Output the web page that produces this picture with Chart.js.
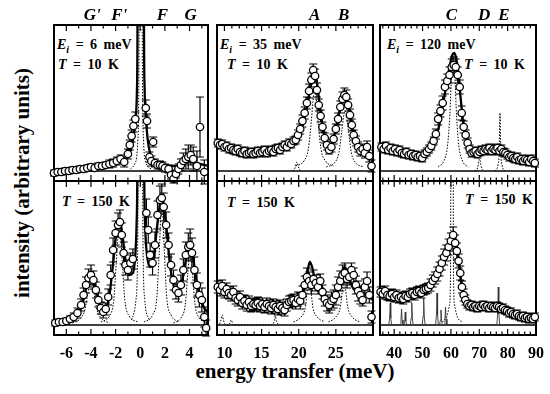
<!DOCTYPE html>
<html><head><meta charset="utf-8">
<script src="https://cdn.jsdelivr.net/npm/chart.js@4.4.0/dist/chart.umd.min.js"></script>
<style>
html,body{margin:0;padding:0;background:#fff;}
body{width:550px;height:394px;position:relative;overflow:hidden;font-family:"Liberation Serif","Times New Roman",serif;color:#000;}
canvas{position:absolute;}
.lbl{position:absolute;font-weight:bold;font-size:14px;line-height:14px;white-space:nowrap;word-spacing:3px;}
.lbl i.s{font-size:10px;position:relative;top:4px;}
#ytitle{position:absolute;left:22px;top:183px;transform:translate(-50%,-50%) rotate(-90deg);font-weight:bold;font-size:21px;white-space:nowrap;}
#xtitle{position:absolute;left:295px;top:361px;transform:translateX(-50%);font-weight:bold;font-size:21px;line-height:21px;white-space:nowrap;}
</style></head><body>
<div id="ytitle">intensity (arbitrary units)</div>
<div id="xtitle">energy transfer (meV)</div>
<div class="lbl" style="left:57px;top:38px"><i>E</i><i class="s">i</i> = 6 meV</div>
<div class="lbl" style="left:58px;top:57.5px"><i>T</i> = 10 K</div>
<div class="lbl" style="left:220px;top:38px"><i>E</i><i class="s">i</i> = 35 meV</div>
<div class="lbl" style="left:227px;top:57.5px"><i>T</i> = 10 K</div>
<div class="lbl" style="left:387px;top:38px"><i>E</i><i class="s">i</i> = 120 meV</div>
<div class="lbl" style="right:25px;top:57.5px"><i>T</i> = 10 K</div>
<div class="lbl" style="left:62px;top:195px"><i>T</i> = 150 K</div>
<div class="lbl" style="left:227px;top:196px"><i>T</i> = 150 K</div>
<div class="lbl" style="right:17px;top:193px"><i>T</i> = 150 K</div>
<script>
// ---------- tick labels / peak labels ----------
const leftTicks = [-6,-4,-2,0,2,4];
const midTicks = [10,15,20,25];
const rightTicks = [40,50,60,70,80,90];
const leftPeaks = ["G'","F'","F","G"];
const leftPeakX = [-3.9,-1.7,1.8,4.1];
const midPeaks = ["A","B"];
const midPeakX = [22.15,26.05];
const rightPeaks = ["C","D","E"];
const rightPeakX = [60.2,71.7,78.7];

// ---------- panel 1 : Ei = 6 meV, T = 10 K ----------
const p1_x = [-7.0,-6.7,-6.4,-6.1,-5.8,-5.5,-5.2,-4.9,-4.6,-4.3,-4.0,-3.7,-3.4,-3.1,-2.8,-2.5,-2.2,-1.9,-1.6,-1.3,-1.0,-0.85,-0.7,-0.55,-0.4,0.45,0.55,0.75,0.9,1.05,1.2,1.4,1.6,1.8,2.0,2.3,2.5,2.7,2.9,3.1,3.3,3.5,3.7,3.9,4.1,4.3,4.6,4.85,5.2];
const p1_y = [-2,-1,-1,0,0,1,1,2,2,3,4,3,5,5,6,7,8,10,12,9,17,26,35,45,52,63,50,14,10,29,8,6,6,5,3,2,-4,-8,-3,2,6,10,12,14,16,12,5,44,-1];
const p1_e = [3,3,3,3,3,3,3,3,3,3,3,3,3,3,3,4,4,4,4,5,5,5,6,6,7,8,7,5,5,5,4,4,4,4,4,4,4,4,4,5,6,8,10,12,10,12,15,30,12];
const p1_fit = [[-7,0],[-6,1],[-5,2],[-4,3.5],[-3,5],[-2,7],[-1.5,9],[-1,14],[-0.7,24],[-0.5,38],[-0.35,55],[-0.27,80],[-0.22,160],[-0.2,400],[0.27,400],[0.3,160],[0.36,80],[0.45,55],[0.6,32],[0.8,18],[1.1,11],[1.5,7],[2,5],[3,5],[3.5,7],[4,9],[4.5,8],[5.5,5]];
const p1_elastic = [[-0.8,2],[-0.4,8],[-0.2,30],[-0.1,120],[-0.05,400],[0.12,400],[0.17,120],[0.27,30],[0.47,8],[0.9,2]];

// ---------- panel 4 : Ei = 6 meV, T = 150 K ----------
const p4_x = [-6.9,-6.6,-6.3,-6.0,-5.7,-5.4,-5.1,-4.8,-4.6,-4.4,-4.2,-4.0,-3.8,-3.6,-3.4,-3.2,-3.0,-2.8,-2.6,-2.4,-2.2,-2.0,-1.8,-1.65,-1.5,-1.35,-1.2,-1.0,-0.8,-0.6,0.5,0.65,0.8,1.0,1.2,1.4,1.6,1.75,1.9,2.1,2.3,2.5,2.7,2.9,3.1,3.3,3.5,3.7,3.9,4.05,4.2,4.4,4.6,4.8,5.0,5.2,5.35];
const p4_y = [2,3,3,4,6,8,12,20,30,40,47,50,45,35,25,17,13,16,28,50,75,92,100,103,90,72,60,55,62,66,112,95,70,62,80,110,125,127,118,100,80,60,45,35,32,40,55,70,78,80,72,55,40,30,25,8,-3];
const p4_e = [3,3,3,3,3,4,5,6,7,8,9,10,9,8,7,6,6,6,8,10,12,12,12,12,12,11,10,10,10,10,14,13,12,12,13,14,14,14,14,13,12,11,10,9,9,10,11,13,14,16,15,13,12,12,12,10,8];
const p4_fit = [[-7,2],[-6,4],[-5.5,6],[-5,12],[-4.6,26],[-4.3,42],[-4.0,51],[-3.7,42],[-3.4,25],[-3.1,15],[-2.8,16],[-2.5,30],[-2.2,62],[-1.95,92],[-1.7,104],[-1.45,90],[-1.2,65],[-0.9,50],[-0.6,52],[-0.4,70],[-0.3,100],[-0.22,200],[-0.2,400],[0.27,400],[0.3,200],[0.4,100],[0.55,70],[0.8,58],[1.1,68],[1.4,102],[1.75,128],[2.1,100],[2.4,62],[2.7,40],[3.0,32],[3.3,38],[3.6,58],[3.85,74],[4.05,80],[4.3,66],[4.6,42],[5.0,22],[5.5,12]];
const p4_Gp = [[-5.5,2],[-4.9,6],[-4.5,15],[-4.25,32],[-4.0,48],[-3.75,32],[-3.5,15],[-3.1,6],[-2.5,2]];
const p4_Fp = [[-3.2,3],[-2.5,9],[-2.15,25],[-1.95,62],[-1.7,100],[-1.45,62],[-1.25,25],[-0.9,9],[-0.2,3]];
const p4_el = [[-0.7,5],[-0.35,25],[-0.2,90],[-0.1,400],[0.12,400],[0.22,90],[0.37,25],[0.72,5]];
const p4_F = [[0.3,3],[1.0,10],[1.35,28],[1.55,75],[1.75,125],[1.95,75],[2.15,28],[2.5,10],[3.2,3]];
const p4_G = [[2.7,2],[3.3,7],[3.65,20],[3.85,50],[4.05,75],[4.25,50],[4.45,20],[4.8,7],[5.4,2]];

// ---------- panel 2 : Ei = 35 meV, T = 10 K ----------
const p2_x = [9.1,9.4,9.7,10.0,10.3,10.6,10.9,11.2,11.5,11.8,12.1,12.4,12.7,13.0,13.3,13.6,13.9,14.2,14.5,14.8,15.1,15.4,15.7,16.0,16.3,16.6,16.9,17.2,17.5,17.8,18.1,18.4,18.7,19.0,19.3,19.6,19.9,20.2,20.5,20.8,21.1,21.4,21.7,21.95,22.2,22.45,22.7,22.95,23.2,23.5,23.8,24.1,24.4,24.7,25.0,25.3,25.6,25.9,26.15,26.4,26.65,26.9,27.15,27.4,27.7,28.0,28.3,28.6,28.9,29.2,29.5,29.8];
const p2_y = [28,26,27,24,25,22,23,21,20,22,19,18,20,17,18,19,17,18,20,18,19,21,18,20,21,19,22,23,21,24,26,24,28,27,30,31,36,42,50,58,68,80,91,101,95,81,66,55,44,33,26,21,24,32,42,52,64,72,76,74,66,56,46,36,30,24,20,22,18,24,15,5];
const p2_e = [4,4,4,4,4,4,4,4,4,4,4,4,4,4,4,4,4,4,4,4,4,4,4,4,4,4,4,4,4,4,4,4,4,4,4,4,5,5,6,6,6,7,7,6,7,7,6,6,5,5,5,4,5,5,5,6,6,7,7,7,6,6,6,5,5,5,5,5,5,6,6,6];
const p2_fit = [[9,28],[10,25],[11,22],[12,20],[13,19],[14,18.5],[15,19],[16,20],[17,22],[18,25],[19,29],[19.8,34],[20.4,42],[20.9,56],[21.3,72],[21.6,88],[21.9,100],[22.1,102],[22.3,97],[22.6,80],[23.0,56],[23.4,38],[23.8,27],[24.2,24],[24.6,30],[25.0,42],[25.4,57],[25.8,70],[26.1,77],[26.3,77],[26.6,70],[27.0,54],[27.4,38],[27.8,27],[28.3,20],[28.8,17],[29.4,14],[30,12]];
const p2_A = [[19.6,5],[20.7,10],[21.3,22],[21.7,50],[22.0,76],[22.15,80],[22.3,76],[22.6,50],[23.0,22],[23.6,10],[24.7,5]];
const p2_B = [[23.7,4],[24.8,8],[25.4,18],[25.8,40],[26.1,57],[26.25,60],[26.4,57],[26.7,40],[27.1,18],[27.7,8],[28.8,4]];
const p2_small = [[19.2,0],[19.5,3],[19.75,9],[20.0,3],[20.3,0]];

// ---------- panel 5 : Ei = 35 meV, T = 150 K ----------
const p5_x = [9.1,9.4,9.7,10.0,10.3,10.6,10.9,11.2,11.5,11.8,12.1,12.4,12.7,13.0,13.3,13.6,13.9,14.2,14.5,14.8,15.1,15.4,15.7,16.0,16.3,16.6,16.9,17.2,17.5,17.8,18.1,18.4,18.7,19.0,19.3,19.6,19.9,20.2,20.5,20.8,21.1,21.4,21.7,22.0,22.3,22.6,22.9,23.2,23.5,23.8,24.1,24.4,24.7,25.0,25.3,25.6,25.9,26.2,26.5,26.8,27.1,27.4,27.7,28.0,28.3,28.6,28.9,29.2,29.5,29.8];
const p5_y = [38,35,39,33,36,32,30,33,27,25,28,22,24,20,23,19,21,20,22,19,21,18,21,19,17,20,18,16,19,17,15,20,23,24,25,22,26,24,30,40,48,44,40,46,42,38,44,33,26,22,20,24,26,30,38,44,50,52,46,48,55,50,40,34,30,25,38,44,30,8];
const p5_e = [6,6,6,6,6,6,6,6,6,6,6,6,6,6,6,6,6,6,6,6,6,6,6,6,6,6,6,6,6,6,6,6,6,6,6,6,7,8,9,9,9,9,9,9,8,7,7,7,7,8,8,9,9,10,10,10,10,10,9,8,7,7,9,10,9,6,8,9,8,6];
const p5_fit = [[9,36],[10,33],[11,28],[12,24],[13,21],[14,19],[15,18],[16,18],[17,18],[18,19],[19,21],[20,25],[20.6,33],[21.0,45],[21.3,58],[21.5,63],[21.8,58],[22.1,48],[22.5,38],[23,30],[23.5,25],[24,24],[24.5,27],[25,33],[25.5,45],[25.9,55],[26.2,58],[26.5,53],[26.9,44],[27.4,36],[28,33],[28.5,33],[29,31],[29.5,28],[30,25]];
const p5_A = [[19.3,3],[20.3,8],[20.9,18],[21.2,38],[21.4,50],[21.6,38],[21.9,18],[22.5,8],[23.5,3]];
const p5_B = [[24.0,3],[25.0,8],[25.6,18],[25.9,36],[26.1,45],[26.3,36],[26.6,18],[27.2,8],[28.2,3]];
const p5_small = [[9,0],[9.2,0],[9.5,4],[9.7,10],[9.9,4],[10.2,0],[10.6,0],[10.9,5],[11.2,0],[16.4,0],[16.7,4],[16.85,9],[17.0,4],[17.3,0]];

// ---------- panel 3 : Ei = 120 meV, T = 10 K ----------
const p3_x = [35.5,36.3,37.1,37.9,38.7,39.5,40.3,41.1,41.9,42.7,43.5,44.3,45.1,45.9,46.7,47.5,48.3,49.1,49.9,50.7,51.5,52.3,53.1,53.9,54.7,55.5,56.3,57.1,57.9,58.7,59.5,60.3,61.0,61.7,62.4,63.1,63.8,64.5,65.2,65.9,66.6,67.3,68.0,68.7,69.4,70.1,70.8,71.5,72.2,72.9,73.6,74.3,75.0,75.7,76.4,77.1,77.8,78.5,79.2,79.9,80.6,81.3,82.0,82.7,83.4,84.1,84.8,85.5,86.2,86.9,87.6,88.3,89.0,89.6];
const p3_y = [24,22,25,21,23,20,22,19,21,18,17,19,16,17,15,16,14,15,13,17,19,22,25,30,37,52,60,68,84,90,96,104,106,104,96,84,58,44,36,28,22,18,19,20,17,19,21,20,22,21,23,20,22,21,23,20,22,19,18,16,14,15,13,12,14,11,12,10,12,11,9,12,10,8];
const p3_e = [4,4,4,4,4,4,4,4,4,4,4,4,4,4,4,4,4,4,4,4,4,4,4,4,5,6,6,7,7,7,8,8,8,8,8,7,7,6,5,5,4,4,4,4,4,4,4,4,4,4,4,4,4,4,4,4,4,4,4,4,4,4,4,4,4,4,4,4,4,4,4,4,4,4];
const p3_fit = [[35,24],[38,22],[41,20],[44,18],[47,16],[50,16],[52,20],[53.5,26],[55,36],[56.2,50],[57.3,68],[58.5,88],[59.6,105],[60.5,116],[61.2,118],[61.9,112],[62.7,96],[63.4,74],[64.2,52],[65.1,36],[66.2,26],[67.5,21],[69,20],[71,21],[73,22],[75,22],[77,21],[79,18],[82,14],[85,12],[88,10],[90,9]];
const p3_C = [[55.5,4],[57.5,10],[58.8,25],[59.6,55],[60.2,95],[60.8,115],[61.4,95],[62.0,55],[62.8,25],[64.1,10],[66.1,4]];
const p3_D = [[68.4,0],[69.4,3],[70.1,12],[70.8,3],[71.8,0]];
const p3_E = [[75.6,0],[76.6,6],[77.0,18],[77.3,58],[77.6,18],[78.0,6],[79.0,0]];

// ---------- panel 6 : Ei = 120 meV, T = 150 K ----------
const p6_x = [35.2,36.0,36.8,37.6,38.4,39.2,40.0,40.8,41.6,42.4,43.2,44.0,44.8,45.6,46.4,47.2,48.0,48.8,49.6,50.4,51.2,52.0,52.8,53.6,54.4,55.2,56.0,56.8,57.6,58.4,59.2,60.0,60.8,61.5,62.1,62.7,63.3,63.9,64.5,65.1,65.8,66.5,67.2,67.9,68.6,69.3,70.0,70.7,71.4,72.1,72.8,73.5,74.2,74.9,75.6,76.3,77.0,77.7,78.4,79.1,79.8,80.5,81.2,81.9,82.6,83.3,84.0,84.7,85.4,86.1,86.8,87.5,88.2,88.9,89.6];
const p6_y = [33,31,34,30,29,31,28,30,27,28,26,29,28,31,32,30,33,34,32,35,36,37,40,44,47,51,56,62,68,72,78,84,90,82,74,64,52,38,30,25,21,19,20,18,19,17,19,18,20,18,19,17,19,18,17,19,18,16,17,15,14,12,13,11,10,11,9,8,9,7,8,6,7,6,8];
const p6_e = [5,5,5,5,5,5,5,5,5,5,5,5,5,5,5,5,5,5,5,5,5,5,6,6,6,7,7,7,8,8,8,8,8,8,8,7,7,6,6,5,4,4,4,4,4,4,4,4,4,4,4,4,4,4,4,4,4,4,4,4,4,4,4,4,4,4,4,4,4,4,4,4,4,4,4];
const p6_fit = [[35,33],[38,30],[41,28],[44,28],[47,31],[50,34],[52,38],[54,45],[55.5,52],[57,62],[58.5,74],[59.7,86],[60.6,92],[61.3,90],[62,80],[62.8,64],[63.5,46],[64.3,32],[65.3,24],[66.5,20],[68,19],[70,19],[72,19],[74,19],[76,18],[78,16],[80,13],[83,10],[86,8],[90,7]];
const p6_C = [[57,3],[58.5,8],[59.5,20],[59.9,60],[60.1,400],[60.7,400],[60.9,60],[61.3,20],[62.3,8],[64,3]];
const p6_spikes = [[35,0],[38.1,0],[38.4,7],[38.6,22],[38.8,7],[39.1,0],[42.1,0],[42.4,5],[42.6,16],[42.8,5],[43.1,0],[43.4,0],[43.7,4],[43.9,13],[44.1,4],[44.4,0],[45.7,0],[46.0,7],[46.2,22],[46.4,7],[46.7,0],[49.9,0],[50.2,9],[50.4,27],[50.6,9],[50.9,0],[54.6,0],[54.9,10],[55.1,32],[55.3,10],[55.6,0],[56,0],[56.3,5],[56.5,15],[56.7,5],[57,0],[57.6,0],[57.9,6],[58.1,18],[58.3,6],[58.6,0],[76.2,0],[76.5,12],[76.7,38],[76.9,12],[77.2,0],[90,0]];

// ---------- layout ----------
const panels = [
  {rect:[54,25,154,156], xr:[-7,5.5], yr:[-10,146], minor:1, ticks:leftTicks, bottomRow:false, peaks:leftPeaks, peakX:leftPeakX,
   d:[p1_x,p1_y,p1_e], fit:p1_fit, comps:[p1_elastic], solid:[]},
  {rect:[217,25,156,156], xr:[9,30], yr:[-10,146], minor:1, ticks:midTicks, bottomRow:false, peaks:midPeaks, peakX:midPeakX,
   d:[p2_x,p2_y,p2_e], fit:p2_fit, comps:[p2_A,p2_B,p2_small], solid:[]},
  {rect:[380,25,156,156], xr:[35,90], yr:[-10,146], minor:2, ticks:rightTicks, bottomRow:false, peaks:rightPeaks, peakX:rightPeakX,
   d:[p3_x,p3_y,p3_e], fit:p3_fit, comps:[p3_C,p3_D,p3_E], solid:[]},
  {rect:[54,181,154,154], xr:[-7,5.5], yr:[-10,144], minor:1, ticks:leftTicks, bottomRow:true,
   d:[p4_x,p4_y,p4_e], fit:p4_fit, comps:[p4_Gp,p4_Fp,p4_el,p4_F,p4_G], solid:[]},
  {rect:[217,181,156,154], xr:[9,30], yr:[-10,144], minor:1, ticks:midTicks, bottomRow:true,
   d:[p5_x,p5_y,p5_e], fit:p5_fit, comps:[p5_A,p5_B,p5_small], solid:[]},
  {rect:[380,181,156,154], xr:[35,90], yr:[-10,144], minor:2, ticks:rightTicks, bottomRow:true,
   d:[p6_x,p6_y,p6_e], fit:p6_fit, comps:[p6_C], solid:[p6_spikes]}
];

const pairs = a => a.map(p => ({x:p[0], y:p[1]}));

function makePlugin(cfg){
  return {
    id:'panelDeco',
    beforeDatasetsDraw(chart){
      const {ctx, chartArea:a, scales:{x}} = chart;
      ctx.save();
      ctx.strokeStyle='#000';
      ctx.lineWidth=2;
      ctx.strokeRect(a.left, a.top, a.right-a.left, a.bottom-a.top);
      ctx.lineWidth=1.2;
      ctx.beginPath();
      const s = cfg.minor;
      for(let v = Math.ceil(x.min/s)*s; v <= x.max+1e-9; v += s){
        const px = x.getPixelForValue(v);
        const major = cfg.ticks.some(t => Math.abs(t-v) < 1e-6);
        const len = major ? 6 : 3.5;
        ctx.moveTo(px, a.top); ctx.lineTo(px, a.top+len);
        ctx.moveTo(px, a.bottom); ctx.lineTo(px, a.bottom-len);
      }
      ctx.stroke();
      ctx.restore();
    },
    beforeDatasetDraw(chart, args){
      const ds = chart.data.datasets[args.index];
      if(!ds.errs) return;
      const {ctx, scales:{x,y}} = chart;
      ctx.save();
      ctx.strokeStyle='#000';
      ctx.lineWidth=1.2;
      ctx.beginPath();
      ds.data.forEach((p,i) => {
        const e = ds.errs[i] || 0;
        const px = x.getPixelForValue(p.x);
        const y1 = y.getPixelForValue(p.y+e), y2 = y.getPixelForValue(p.y-e);
        ctx.moveTo(px, y1); ctx.lineTo(px, y2);
        ctx.moveTo(px-4, y1); ctx.lineTo(px+4, y1);
        ctx.moveTo(px-4, y2); ctx.lineTo(px+4, y2);
      });
      ctx.stroke();
      ctx.restore();
    },
    afterDraw(chart){
      const {ctx, chartArea:a, scales:{x}} = chart;
      ctx.save();
      ctx.fillStyle='#000';
      ctx.textAlign='center';
      ctx.textBaseline='alphabetic';
      if(cfg.bottomRow){
        ctx.font='bold 16px "Liberation Serif", "Times New Roman", serif';
        cfg.ticks.forEach(t => ctx.fillText(String(t), x.getPixelForValue(t), a.bottom+22.5));
      }
      if(cfg.peaks){
        ctx.font='bold italic 17px "Liberation Serif", "Times New Roman", serif';
        cfg.peaks.forEach((t,i) => ctx.fillText(t, x.getPixelForValue(cfg.peakX[i]), a.top-5));
      }
      ctx.restore();
    }
  };
}

panels.forEach((cfg) => {
  const [l,t,w,h] = cfg.rect;
  const ml=14, mr=14, mt = cfg.bottomRow ? 14 : 25, mb = cfg.bottomRow ? 32 : 14;
  const c = document.createElement('canvas');
  c.width = w+ml+mr; c.height = h+mt+mb;
  c.style.left = (l-ml)+'px'; c.style.top = (t-mt)+'px';
  c.style.width = c.width+'px'; c.style.height = c.height+'px';
  document.body.appendChild(c);
  const [xs,ys,es] = cfg.d;
  const datasets = [];
  datasets.push({label:'data', data: xs.map((xv,i)=>({x:xv, y:ys[i]})), errs: es, showLine:false,
    pointRadius:3.7, pointBorderWidth:1.3, pointBackgroundColor:'#fff', pointBorderColor:'#000', clip:false, order:0});
  datasets.push({label:'fit', data: pairs(cfg.fit), showLine:true, borderColor:'#000', borderWidth:2.3,
    pointRadius:0, cubicInterpolationMode:'monotone', order:1});
  cfg.comps.forEach(cp => datasets.push({label:'comp', data: pairs(cp), showLine:true, borderColor:'#000',
    borderWidth:1, borderDash:[1.5,1.5], pointRadius:0, cubicInterpolationMode:'monotone', order:2}));
  cfg.solid.forEach(cp => datasets.push({label:'spk', data: pairs(cp), showLine:true, borderColor:'#333',
    borderWidth:0.9, pointRadius:0, tension:0, order:2}));
  datasets.push({label:'base', data:[{x:cfg.xr[0],y:0},{x:cfg.xr[1],y:0}], showLine:true, borderColor:'#000',
    borderWidth:1.3, pointRadius:0, order:3});
  new Chart(c, {
    type:'scatter',
    data:{datasets},
    options:{
      responsive:false, animation:false, events:[],
      layout:{padding:{left:ml, right:mr, top:mt, bottom:mb}},
      scales:{
        x:{type:'linear', display:false, min:cfg.xr[0], max:cfg.xr[1]},
        y:{type:'linear', display:false, min:cfg.yr[0], max:cfg.yr[1]}
      },
      plugins:{legend:{display:false}, tooltip:{enabled:false}}
    },
    plugins:[makePlugin(cfg)]
  });
});
</script>
</body></html>
